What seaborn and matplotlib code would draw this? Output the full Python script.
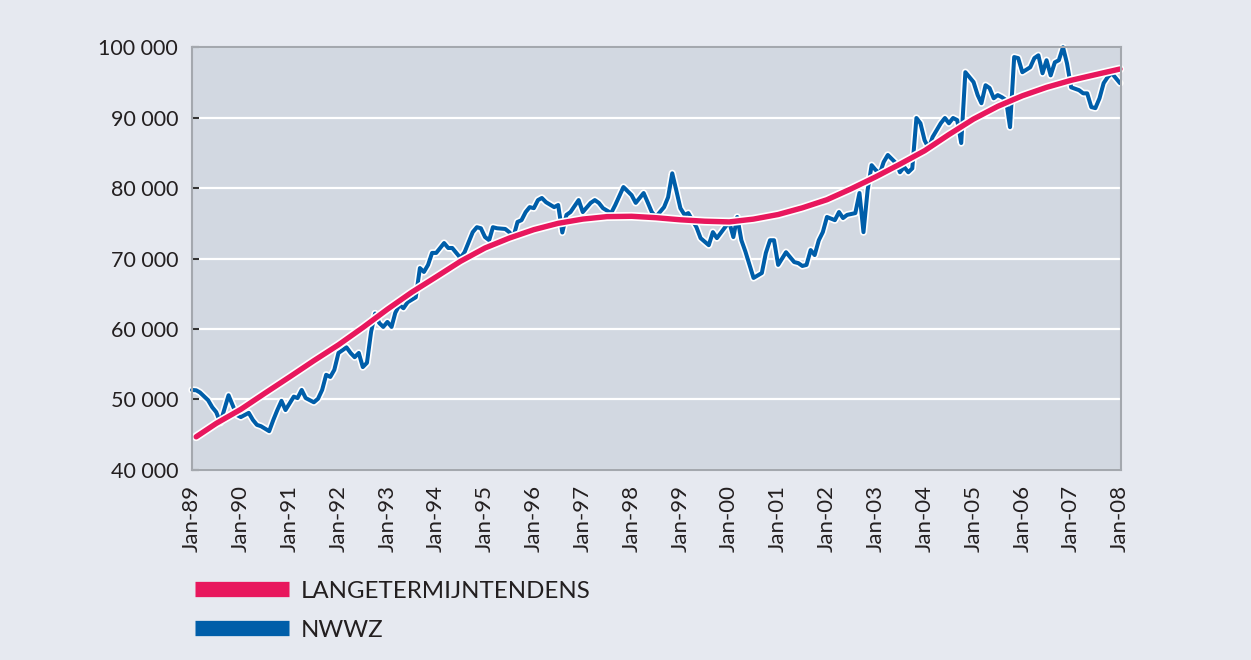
import matplotlib
matplotlib.use("Agg")
import matplotlib.pyplot as plt
import matplotlib.patheffects as pe
from matplotlib.lines import Line2D
import seaborn as sns
import pandas as pd

# NWWZ series: month index counted from Jan-89
nwwz_month = [0, 1, 2, 4, 5, 6, 7, 9, 11, 12, 14, 15, 16, 17, 19, 20, 21, 22, 23,
              25, 26, 27, 28, 30, 31, 32, 33, 34, 35, 36, 37, 38, 39, 40, 41, 42,
              43, 44, 45, 46, 47, 48, 49, 50, 51, 52, 53, 55, 56, 57, 58, 59, 60,
              62, 63, 64, 65, 66, 67, 69, 70, 71, 72, 73, 74, 75, 77, 78, 79, 80,
              81, 82, 83, 84, 85, 86, 87, 89, 90, 91, 92, 93, 95, 96, 98, 99, 100,
              101, 103, 104, 106, 108, 109, 111, 112, 113, 114, 116, 117, 118, 119,
              120, 121, 122, 124, 125, 127, 128, 129, 131, 132, 133, 134, 135, 136,
              138, 140, 141, 142, 143, 144, 146, 148, 149, 150, 151, 152, 153, 154,
              155, 156, 158, 159, 160, 161, 163, 164, 165, 166, 167, 168, 169, 170,
              171, 173, 174, 175, 176, 177, 178, 179, 180, 181, 182, 184, 185, 186,
              187, 188, 189, 190, 192, 193, 194, 195, 196, 197, 198, 199, 200, 201,
              202, 203, 204, 206, 207, 208, 209, 210, 211, 212, 213, 214, 215, 216,
              218, 219, 220, 221, 222, 223, 224, 225, 226, 227, 228]
nwwz_value = [51350, 51300, 51000, 49900, 48900, 48200, 46700, 50600, 47800, 47500,
              48100, 47100, 46400, 46200, 45500, 47100, 48500, 49800, 48500,
              50400, 50200, 51350, 50200, 49600, 50100, 51350, 53500, 53200, 54200,
              56600, 57000, 57400, 56600, 56000, 56600, 54600,
              55200, 59600, 62200, 60850, 60300, 61000, 60300, 62300, 63400, 62950,
              63800, 64500, 68650, 68100, 69100, 70800, 70800,
              72200, 71500, 71500, 70800, 70100, 70900, 73750, 74450, 74300, 73050,
              72600, 74450, 74300, 74200, 73750, 73050, 75200,
              75450, 76600, 77300, 77150, 78300, 78600, 78000, 77300, 77600, 73700,
              76200, 76600, 78300, 76600, 77900, 78300, 77900,
              77150, 76450, 77600, 80150, 79000, 77900, 79300, 78000, 76600, 75900,
              77300, 78700, 82100, 79700,
              77150, 76200, 76450, 74450, 72900, 71900, 73750, 72900, 74450, 75200,
              73050, 75900, 72600, 71000,
              67250, 67950, 70800, 72600, 72600, 69100, 70900, 69500, 69350, 68950,
              69100, 71200, 70500, 72600,
              73750, 75900, 75450, 76600, 75750, 76200, 76450, 79300, 73750, 79700,
              83250, 82550, 82100, 83700,
              84700, 83550, 82250, 83000, 82250, 82800, 89950, 89200, 86800, 85650,
              87250, 89200, 89950, 89200,
              89950, 89650, 86400, 96450, 95050, 93200, 92050, 94600, 94200, 92750,
              93200, 92900, 92500, 88650,
              98600, 98450, 96450, 97150, 98450, 98850, 96300, 98150, 96000, 97850,
              98150, 100000, 97700, 94300,
              93900, 93450, 93450, 91500, 91350, 92750, 94900, 95750, 96300, 95600,
              94900]

# long-term trend, read every six months (starts just after Jan-89)
trend_month = [1] + list(range(6, 229, 6))
trend_value = [44700, 46600, 48600, 50900, 53200, 55500, 57750, 60200, 62800, 65200,
               67400, 69600, 71500, 72900, 74100, 75000, 75600, 75950, 76000, 75800,
               75500, 75300, 75200, 75600, 76250, 77200, 78350, 79900, 81600, 83400,
               85300, 87600, 89800, 91600, 93100, 94300, 95300, 96100, 96900]

years = list(range(1989, 2009))
y_ticks = [40000, 50000, 60000, 70000, 80000, 90000, 100000]
series_labels = ["LANGETERMIJNTENDENS", "NWWZ"]

BG = "#e6e9f0"
PANEL = "#d2d8e1"
PINK = "#e8175d"
BLUE = "#005ea9"
TEXT = "#231f20"

months = pd.date_range("1989-01-01", periods=229, freq="MS")
nwwz = pd.DataFrame({"date": months[nwwz_month], "value": nwwz_value})
trend = pd.DataFrame({"date": months[trend_month], "value": trend_value})

sns.set_theme(style="darkgrid", rc={
    "axes.facecolor": PANEL,
    "figure.facecolor": BG,
    "grid.color": "white",
    "grid.linewidth": 1.6,
    "axes.edgecolor": "#a4a8ae",
    "axes.linewidth": 1.5,
})
plt.rcParams["font.family"] = ["Lato", "DejaVu Sans"]

fig = plt.figure(figsize=(12.51, 6.6), dpi=100)
ax = fig.add_axes([0.1535, 0.288, 0.7425, 0.6405])

sns.lineplot(data=nwwz, x="date", y="value", ax=ax, color=BLUE, lw=2.9,
             estimator=None, sort=False, clip_on=False,
             path_effects=[pe.Stroke(linewidth=5.3, foreground="white"), pe.Normal()])
sns.lineplot(data=trend, x="date", y="value", ax=ax, color=PINK, lw=3.9,
             estimator=None, sort=False, clip_on=False, solid_capstyle="round",
             path_effects=[pe.Stroke(linewidth=6.3, foreground="white"), pe.Normal()])

ax.set_xlim(pd.Timestamp("1989-01-01"), pd.Timestamp("2008-01-08"))
ax.set_ylim(40000, 100000)
ax.grid(axis="x", visible=False)

ax.set_xticks([pd.Timestamp(f"{y}-01-01") for y in years])
ax.set_xticklabels([f"Jan-{y % 100:02d}" for y in years], rotation=90,
                   fontsize=16, color=TEXT)
ax.set_yticks(y_ticks)
ax.set_yticklabels([f"{v:,}".replace(",", " ") for v in y_ticks],
                   fontsize=15.5, color=TEXT)
ax.tick_params(axis="x", length=0, pad=11)
ax.tick_params(axis="y", direction="in", length=5, width=1.5, color="#333333",
               pad=10, left=True)
ax.set_xlabel("")
ax.set_ylabel("")
for side in ["top", "right", "bottom", "left"]:
    ax.spines[side].set_visible(True)

handles = [Line2D([0], [0], color=PINK, lw=11, solid_capstyle="butt"),
           Line2D([0], [0], color=BLUE, lw=11, solid_capstyle="butt")]
fig.legend(handles=handles, labels=series_labels, loc="upper left",
           bbox_to_anchor=(0.156, 0.12), frameon=False, fontsize=17.3,
           handlelength=3.9, handletextpad=0.5, labelspacing=0.75,
           borderpad=0, borderaxespad=0, labelcolor=TEXT)

fig.savefig("out.png", dpi=100, facecolor=BG)
